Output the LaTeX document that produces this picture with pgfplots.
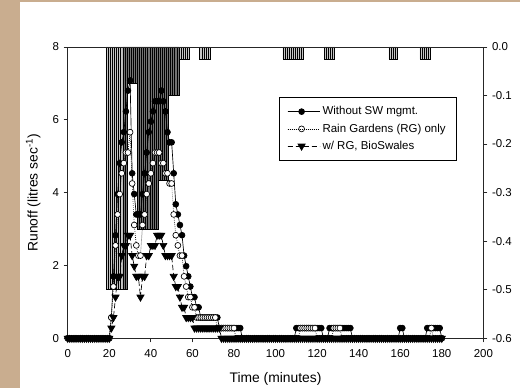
\documentclass[border=0pt]{standalone}
\usepackage{pgfplots}
\pgfplotsset{compat=1.18}
\usepackage{pgfplotstable}
\usepackage{fontspec}
\setmainfont{Liberation Sans}
\definecolor{tanbg}{RGB}{201,173,143}

\pgfplotstableread{
t s1 s2 s3
0 0 0 0
1 0 0 0
2 0 0 0
3 0 0 0
4 0 0 0
5 0 0 0
6 0 0 0
7 0 0 0
8 0 0 0
9 0 0 0
10 0 0 0
11 0 0 0
12 0 0 0
13 0 0 0
14 0 0 0
15 0 0 0
16 0 0 0
17 0 0 0
18 0 0 0
19 0 0 0
20 0 0 0
21 0.57 0.57 0.28
22 1.70 1.42 0.57
23 2.83 2.55 1.13
24 3.96 3.40 1.70
25 4.81 3.96 1.70
26 5.38 4.53 2.27
27 5.66 4.81 2.55
28 6.23 5.10 2.55
29 6.80 5.10 2.83
30 7.08 5.66 2.83
31 4.53 4.25 2.27
32 3.96 3.11 1.98
33 3.40 2.55 1.70
34 3.40 2.27 1.70
35 3.40 2.27 1.13
36 3.96 3.11 1.70
37 4.53 3.40 1.70
38 5.10 3.96 2.27
39 5.66 4.25 2.27
40 5.95 4.53 2.55
41 6.23 4.81 2.55
42 6.51 5.10 2.55
43 6.51 5.10 2.83
44 6.51 5.10 2.83
45 6.80 4.81 2.83
46 6.51 4.81 2.55
47 6.23 4.53 2.27
48 5.66 4.53 2.27
49 5.38 4.25 2.27
50 5.38 4.25 2.27
51 4.53 3.40 1.70
52 3.68 2.83 1.42
53 3.40 2.55 1.42
54 3.11 2.27 1.13
55 2.83 2.27 0.85
56 2.27 1.70 0.85
57 1.98 1.42 0.57
58 1.70 1.13 0.57
59 1.42 1.13 0.57
60 1.13 0.85 0.57
61 1.13 0.85 0.28
62 0.85 0.57 0.28
63 0.85 0.57 0.28
64 0.57 0.57 0.28
65 0.57 0.57 0.28
66 0.57 0.57 0.28
67 0.57 0.57 0.28
68 0.57 0.57 0.28
69 0.57 0.57 0.28
70 0.57 0.57 0.28
71 0.57 0.57 0.28
72 0.57 0.28 0.28
73 0.28 0.28 0.28
74 0.28 0.28 0
75 0.28 0.28 0
76 0.28 0.28 0
77 0.28 0.28 0
78 0.28 0.28 0
79 0.28 0.28 0
80 0.28 0.28 0
81 0.28 0 0
82 0.28 0 0
83 0.28 0 0
84 0 0 0
85 0 0 0
86 0 0 0
87 0 0 0
88 0 0 0
89 0 0 0
90 0 0 0
91 0 0 0
92 0 0 0
93 0 0 0
94 0 0 0
95 0 0 0
96 0 0 0
97 0 0 0
98 0 0 0
99 0 0 0
100 0 0 0
101 0 0 0
102 0 0 0
103 0 0 0
104 0 0 0
105 0 0 0
106 0 0 0
107 0 0 0
108 0 0 0
109 0 0 0
110 0.28 0 0
111 0.28 0 0
112 0.28 0.28 0
113 0.28 0.28 0
114 0.28 0.28 0
115 0.28 0.28 0
116 0.28 0.28 0
117 0.28 0.28 0
118 0.28 0.28 0
119 0.28 0.28 0
120 0.28 0 0
121 0.28 0 0
122 0.28 0 0
123 0 0 0
124 0 0 0
125 0 0 0
126 0.28 0 0
127 0.28 0 0
128 0.28 0.28 0
129 0.28 0.28 0
130 0.28 0.28 0
131 0.28 0.28 0
132 0.28 0 0
133 0.28 0 0
134 0.28 0 0
135 0.28 0 0
136 0.28 0 0
137 0 0 0
138 0 0 0
139 0 0 0
140 0 0 0
141 0 0 0
142 0 0 0
143 0 0 0
144 0 0 0
145 0 0 0
146 0 0 0
147 0 0 0
148 0 0 0
149 0 0 0
150 0 0 0
151 0 0 0
152 0 0 0
153 0 0 0
154 0 0 0
155 0 0 0
156 0 0 0
157 0 0 0
158 0 0 0
159 0 0 0
160 0.28 0 0
161 0.28 0 0
162 0 0 0
163 0 0 0
164 0 0 0
165 0 0 0
166 0 0 0
167 0 0 0
168 0 0 0
169 0 0 0
170 0 0 0
171 0 0 0
172 0 0 0
173 0.28 0 0
174 0.28 0 0
175 0.28 0.28 0
176 0.28 0 0
177 0.28 0 0
178 0.28 0 0
179 0.28 0 0
180 0 0 0
}\runoff

% rainfall, light-hatched blocks
\pgfplotstableread{
t r
19 -0.5
20 -0.5
21 -0.5
22 -0.5
23 -0.5
24 -0.5
25 -0.5
26 -0.5
54 -0.025
55 -0.025
56 -0.025
57 -0.025
58 -0.025
64 -0.025
65 -0.025
66 -0.025
67 -0.025
68 -0.025
104 -0.025
105 -0.025
106 -0.025
107 -0.025
108 -0.025
109 -0.025
110 -0.025
111 -0.025
112 -0.025
113 -0.025
124 -0.025
125 -0.025
126 -0.025
127 -0.025
128 -0.025
155 -0.025
156 -0.025
157 -0.025
158 -0.025
170 -0.025
171 -0.025
172 -0.025
173 -0.025
174 -0.025
}\rainA

% rainfall, dark-hatched blocks
\pgfplotstableread{
t r
27 -0.5
28 -0.5
29 -0.075
30 -0.075
31 -0.075
32 -0.075
33 -0.075
34 -0.375
35 -0.375
36 -0.375
37 -0.375
38 -0.375
39 -0.375
40 -0.375
41 -0.375
42 -0.375
43 -0.375
44 -0.275
45 -0.275
46 -0.275
47 -0.275
48 -0.275
49 -0.1
50 -0.1
51 -0.1
52 -0.1
53 -0.1
}\rainB

\pgfplotsset{
  common/.style={
    at={(50.8pt,37.3pt)}, anchor=south west,
    scale only axis, width=311.7pt, height=218.5pt,
    xmin=0, xmax=200,
    tick align=outside, major tick length=3pt,
    /pgf/number format/assume math mode=true,
    ticklabel style={font=\fontsize{8.6}{10}\selectfont},
    label style={font=\fontsize{10.4}{12}\selectfont},
    axis line style={line width=0.6pt, black!85},
    tick style={line width=0.6pt, black!85},
  }
}

\begin{document}
\begin{tikzpicture}
\path[use as bounding box] (0,0) rectangle (390pt,291pt);
\fill[tanbg] (0,0) rectangle (390pt,291pt);
\fill[white] (15pt,0) rectangle (390pt,289.5pt);

\begin{axis}[common,
  ymin=-0.6, ymax=0,
  axis x line=none, axis y line*=right,
  ytick={-0.6,-0.5,-0.4,-0.3,-0.2,-0.1,0},
  yticklabel style={/pgf/number format/.cd, fixed, fixed zerofill, precision=1},
]
\addplot[ybar, bar width=1, bar shift=0pt, draw=black, fill=gray!45, line width=0.4pt]
  table[x=t, y=r]{\rainA};
\addplot[ybar, bar width=1, bar shift=0pt, draw=black, fill=black!55, line width=0.4pt]
  table[x=t, y=r]{\rainB};
\end{axis}

\begin{axis}[common,
  ymin=0, ymax=8,
  xtick={0,20,...,200}, ytick={0,2,...,8},
  xtick pos=bottom, ytick pos=left,
  xticklabel style={yshift=-2pt},
  clip=false,
  xlabel={Time (minutes)},
  ylabel={Runoff (litres sec\textsuperscript{-1})},
  xlabel style={at={(axis description cs:0.5,-0.14)}, anchor=center},
  ylabel style={at={(axis description cs:-0.083,0.5)}, anchor=center},
  legend cell align=left,
  legend style={at={(rel axis cs:0.508,0.829)}, anchor=north west,
    draw=black, line width=0.6pt, fill=white,
    font=\fontsize{8.6}{10}\selectfont,
    inner xsep=6pt, inner ysep=5pt, row sep=1.2pt},
  legend image code/.code={\draw[mark repeat=2, mark phase=2]
    plot coordinates {(0pt,0pt) (10.5pt,0pt) (21pt,0pt)};
    \path (0pt,0pt) -- (24pt,0pt);},
]
\addplot[black, line width=0.5pt, mark=*, mark size=2.2pt,
  mark options={solid, fill=black}] table[x=t, y=s1]{\runoff};
\addlegendentry{Without SW mgmt.}
\addplot[black, line width=0.5pt, densely dotted, mark=*, mark size=2.2pt,
  mark options={solid, fill=white}] table[x=t, y=s2]{\runoff};
\addlegendentry{Rain Gardens (RG) only}
\addplot[black, line width=0.5pt, dash pattern=on 4pt off 2pt, mark=triangle*, mark size=3.1pt,
  mark options={solid, fill=black, rotate=180}] table[x=t, y=s3]{\runoff};
\addlegendentry{w/ RG, BioSwales}
\end{axis}
\end{tikzpicture}
\end{document}
